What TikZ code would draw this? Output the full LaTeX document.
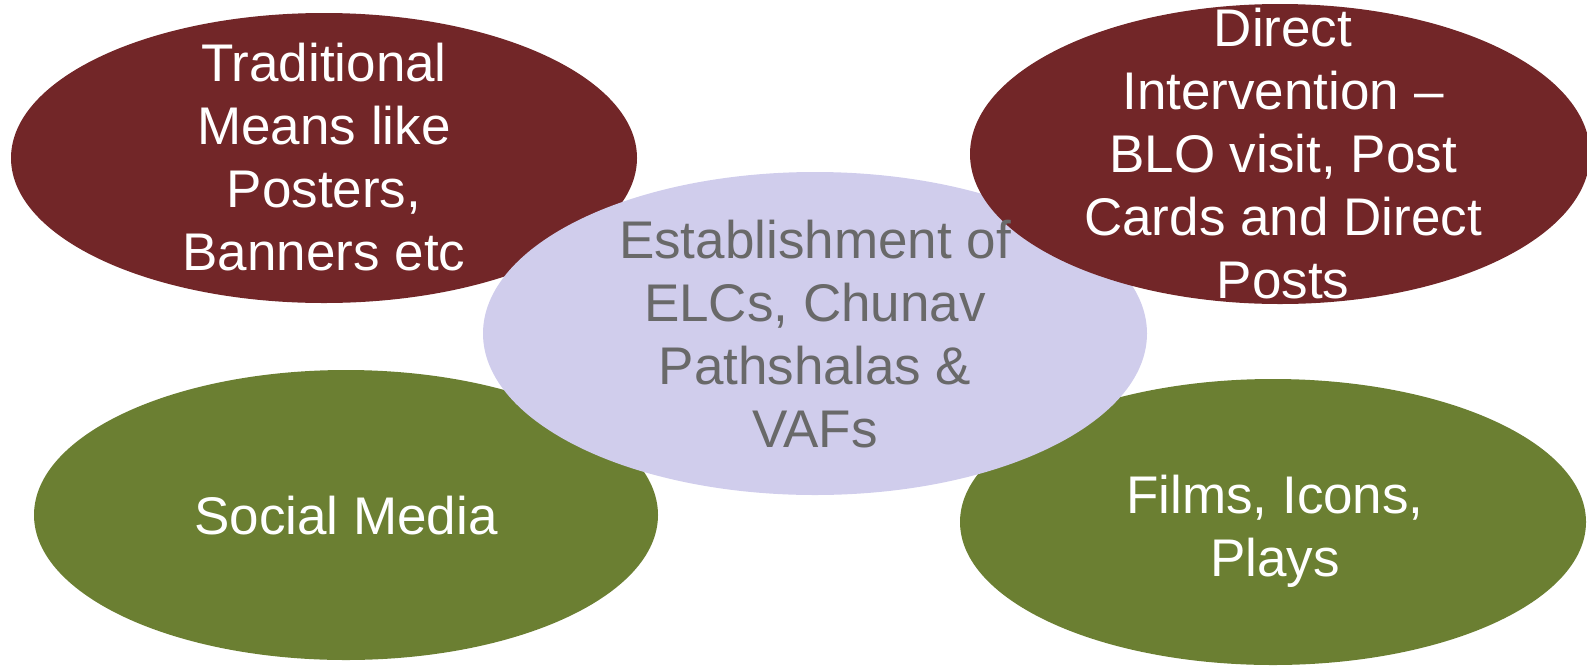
\documentclass[tikz,border=0pt]{standalone}
\usepackage{fontspec}
\setmainfont{Liberation Sans}
\usetikzlibrary{shapes.geometric}
\definecolor{maroon}{RGB}{114,38,40}
\definecolor{olive}{RGB}{107,127,50}
\definecolor{lav}{RGB}{208,205,236}
\definecolor{graytext}{RGB}{105,105,105}
\begin{document}
\begin{tikzpicture}[x=1pt,y=-1pt,
  blob/.style={ellipse,inner sep=0pt,draw=none},
  lbl/.style={align=center,inner sep=0pt,font=\fontsize{53}{63}\selectfont},
  wlbl/.style={lbl,text=white},
  glbl/.style={lbl,text=graytext}]
\useasboundingbox (0,0) rectangle (1587,665);
\node[blob,fill=maroon,minimum width=626pt,minimum height=290pt] (tl) at (324,158) {};
\node[blob,fill=olive,minimum width=624pt,minimum height=290pt] (bl) at (346,515) {};
\node[blob,fill=olive,minimum width=626pt,minimum height=286pt] (br) at (1273,522) {};
\node[blob,fill=lav,minimum width=664pt,minimum height=323pt] (c) at (815,333.5) {};
\node[blob,fill=maroon,minimum width=620pt,minimum height=300pt] (tr) at (1280,154) {};
\node[wlbl] (tltext) at (324,157.5) {Traditional\\Means like\\Posters,\\Banners etc};
\node[wlbl] (trtext) at (1283,154) {Direct\\Intervention –\\BLO visit, Post\\Cards and Direct\\Posts};
\node[wlbl] (bltext) at (346,516) {Social Media};
\node[wlbl] (brtext) at (1275,531) {Films, Icons,\\Plays};
\node[glbl] (ctext) at (815,334) {Establishment of\\ELCs, Chunav\\Pathshalas \&\\VAFs};
\end{tikzpicture}
\end{document}
